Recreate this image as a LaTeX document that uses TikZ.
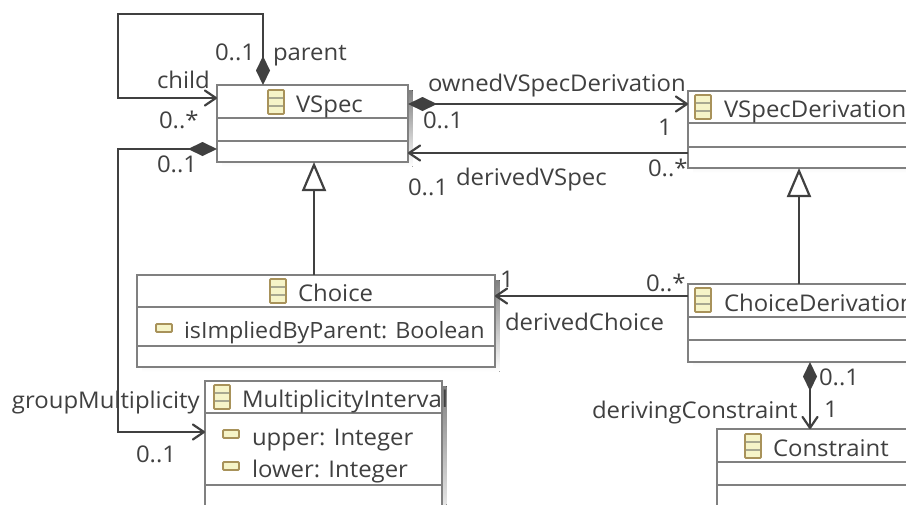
\documentclass[tikz,border=0pt]{standalone}
\usepackage{fontspec}
\setmainfont[FakeStretch=1.04]{Open Sans}
\usetikzlibrary{arrows.meta}
\definecolor{ink}{HTML}{404040}
\definecolor{boxline}{HTML}{808080}
\definecolor{shade}{HTML}{DCDCE2}
\definecolor{icongold}{HTML}{A8925A}
\definecolor{iconfill}{HTML}{F6F4C8}
\definecolor{iconmid}{HTML}{A8A890}
\tikzset{
  x=1pt,y=-1pt,
  lab/.style={anchor=base west,inner sep=0pt,outer sep=0pt,text=ink,font=\fontsize{23}{27}\selectfont},
  smalllab/.style={lab,font=\fontsize{22.4}{27}\selectfont},
  umlbox/.style={draw=boxline,line width=2.2pt,fill=white,inner sep=0pt,outer sep=0pt,rectangle,anchor=north west},
  divider/.style={draw=boxline,line width=2.2pt},
  conn/.style={draw=ink,line width=2.6pt},
  openhead/.tip={Straight Barb[length=11pt,width=15pt,line width=2.2pt,round]},
  comp/.tip={Diamond[length=29pt,width=14pt,fill=ink]},
  gen/.tip={Triangle[open,length=29pt,width=24pt,fill=white,line width=2.2pt]},
}
\newcommand{\umlclass}[7]{% name x1 y1 x2 y2 d1 d2
  \fill[shade] (#2+5,#3+5) rectangle (#4+4.5,#5+4.5);
  \node[umlbox,minimum width=#4-#2,minimum height=#5-#3] (#1) at (#2,#3) {};
  \draw[divider] (#2,#6) -- (#4+1,#6);
  \draw[divider] (#2,#7) -- (#4+1,#7);
}
\newcommand{\classicon}[2]{%
  \draw[icongold,line width=1.8pt,fill=iconfill,rounded corners=0.8pt] (#1,#2) rectangle (#1+16,#2+24);
  \draw[iconmid,line width=1.8pt] (#1+1,#2+8) -- (#1+15,#2+8) (#1+1,#2+16) -- (#1+15,#2+16);
}
\newcommand{\attricon}[2]{%
  \draw[icongold,line width=1.8pt,fill=iconfill,rounded corners=1pt] (#1,#2) rectangle (#1+16,#2+8);
}
\begin{document}
\begin{tikzpicture}
\useasboundingbox (0,0) rectangle (906,504);
\clip (0,0) rectangle (906,504);
\fill[white] (0,0) rectangle (906,504);

% classes
\umlclass{vspec}{217}{85}{408}{162}{118}{141}
\umlclass{vsd}{688}{91}{930}{168}{123}{147}
\umlclass{choice}{137}{275}{495}{367}{307}{346}
\umlclass{cd}{688}{284}{930}{362}{317}{340}
\umlclass{mi}{205}{381}{442}{530}{413}{485}
\umlclass{con}{717}{429}{930}{530}{462}{485}

\classicon{268}{90}
\classicon{695}{95}
\classicon{270}{279}
\classicon{695}{288}
\classicon{214}{385}
\classicon{745}{434}
\attricon{156}{324}
\attricon{223}{430}
\attricon{223}{462}

% class labels
\node[lab] (tvspec) at (296,112) {VSpec};
\node[lab] (tvsd) at (724,117) {VSpecDerivation};
\node[lab] (tchoice) at (298,301) {Choice};
\node[smalllab] (timplied) at (184,338) {isImpliedByParent: Boolean};
\node[lab] (tcd) at (724,311) {ChoiceDerivation};
\node[lab] (tmi) at (242,407) {MultiplicityInterval};
\node[lab] (tupper) at (252,445) {upper: Integer};
\node[lab] (tlower) at (252,477) {lower: Integer};
\node[lab] (tcon) at (773,456) {Constraint};

% connectors
\draw[conn,{comp}-{openhead}] ([xshift=46pt]vspec.north west) -- ++(0,-71) -| ++(-145,84) -- ([yshift=-13pt]vspec.north west);
\draw[conn,{comp}-{openhead}] ([yshift=-19pt]vspec.north east) -- ([yshift=-13pt]vsd.north west);
\draw[conn,-{openhead}] ([yshift=-62pt]vsd.north west) -- ([yshift=-62pt]vsd.north west -| vspec.east);
\draw[conn,-{gen}] ([xshift=97pt]vspec.south west |- choice.north) -- ([xshift=97pt]vspec.south west);
\draw[conn,-{gen}] ([xshift=111pt]vsd.south west |- cd.north) -- ([xshift=111pt]vsd.south west);
\draw[conn,-{openhead}] ([yshift=-12pt]cd.north west) -- ([yshift=-12pt]cd.north west -| choice.east);
\draw[conn,{comp}-{openhead}] ([xshift=122pt]cd.south west) -- ([xshift=122pt]cd.south west |- con.north);
\draw[conn,{comp}-{openhead}] ([yshift=-64pt]vspec.north west) -- ++(-99,0) |- ([yshift=-51pt]mi.north west);

% connector labels
\node[lab] (l1) at (215,60) {0..1};
\node[lab] (l2) at (273,60) {parent};
\node[lab] (l3) at (157,88) {child};
\node[lab] (l4) at (159,128) {0..*};
\node[lab] (l5) at (157,172) {0..1};
\node[lab] (l6) at (428,91) {ownedVSpecDerivation};
\node[lab] (l7) at (423,128) {0..1};
\node[lab] (l8) at (658,135) {1};
\node[lab] (l9) at (648,176) {0..*};
\node[lab] (l10) at (456,185) {derivedVSpec};
\node[lab] (l11) at (408,195) {0..1};
\node[lab] (l12) at (500,287) {1};
\node[lab] (l13) at (646,291) {0..*};
\node[lab] (l14) at (505,330) {derivedChoice};
\node[lab] (l15) at (819,385) {0..1};
\node[lab] (l16) at (824,417) {1};
\node[lab] (l17) at (592,418) {derivingConstraint};
\node[lab] (l18) at (12,408) {groupMultiplicity};
\node[lab] (l19) at (136,462) {0..1};
\end{tikzpicture}
\end{document}
